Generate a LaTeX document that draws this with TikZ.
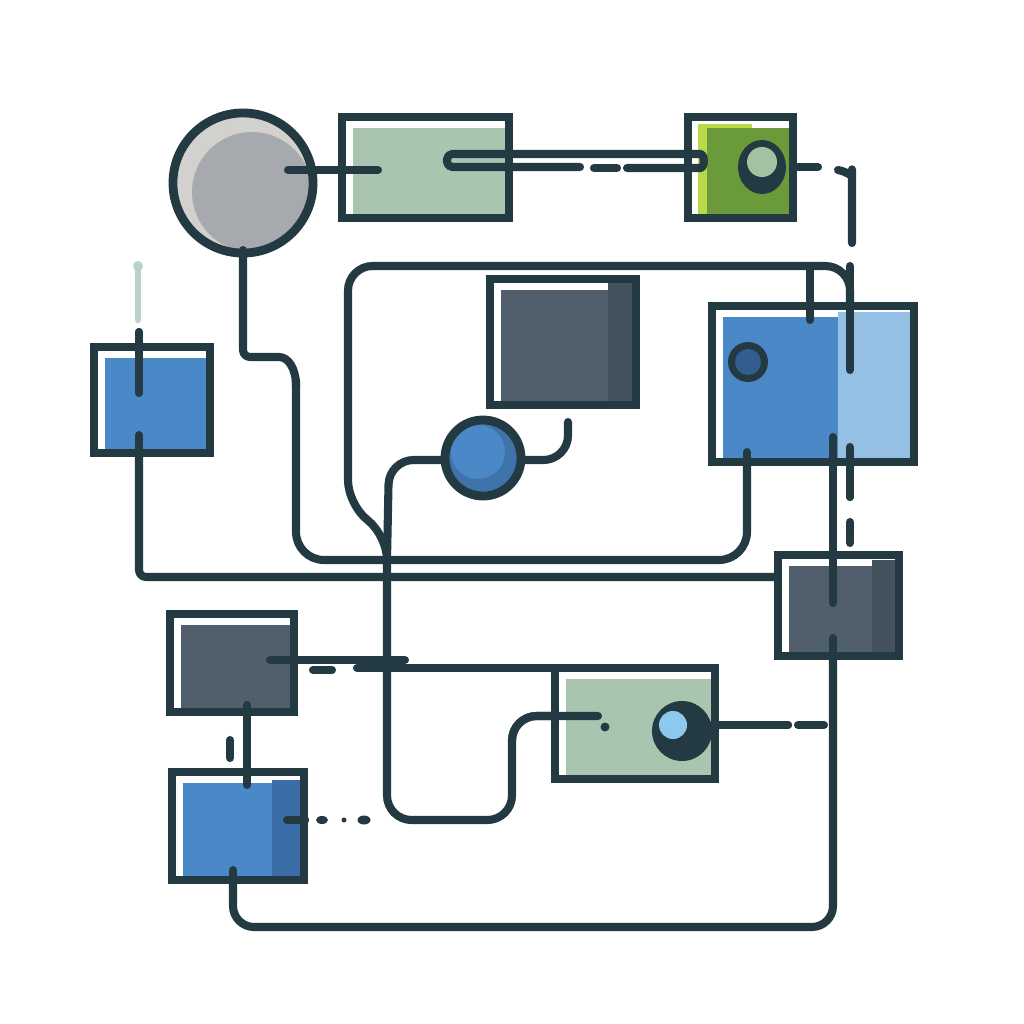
\documentclass[tikz,border=0pt]{standalone}
\usetikzlibrary{fit}
\definecolor{lc}{HTML}{243A43}
\definecolor{sage}{HTML}{A9C5AF}
\definecolor{olive}{HTML}{6A9A3A}
\definecolor{lime}{HTML}{B9D94A}
\definecolor{bblue}{HTML}{4A88C8}
\definecolor{lblue}{HTML}{93C0E4}
\definecolor{dblue}{HTML}{3B6EA8}
\definecolor{slate}{HTML}{505F6B}
\definecolor{dslate}{HTML}{44525D}
\definecolor{grayA}{HTML}{A6A9AE}
\definecolor{grayB}{HTML}{D3D1CE}
\definecolor{sky}{HTML}{8DC9EF}
\definecolor{fadeline}{HTML}{B9D3C8}
\tikzset{
  wire/.style={draw=lc, line width=2.3pt, line cap=round, line join=round, rounded corners=7pt},
  frame/.style={draw=lc, line width=2.5pt},
}
\newcommand{\mypanel}[6]{%
  \fill[white] (#2,#3) rectangle (#4,#5);
  \fill[#6] (#2+11,#3+11) rectangle (#4-4,#5-4);
  \coordinate (#1-a) at (#2,#3);
  \coordinate (#1-b) at (#4,#5);
}
\newcommand{\myframe}[1]{\node[fit=(#1-a)(#1-b), inner sep=0pt, frame] (#1) {};}
\begin{document}
\begin{tikzpicture}[x=0.01cm,y=-0.01cm]
\useasboundingbox (0,0) rectangle (1024,1024);
\fill[white] (0,0) rectangle (1024,1024);

% ---------- wires (behind) ----------
\draw[wire] (850,370)--(850,266)--(348,266)--(348,505)--(387,535)--(387,820)--(512,820)--(512,716)--(598,716);
\draw[wire] (810,267)--(810,320);
\draw[wire] (445,460)--(389,460)--(387,560);
\draw[wire] (521,460)--(568,460)--(568,422);
\draw[wire, rounded corners=2pt] (243,255)--(243,357)--(272,357) .. controls (288,357) and (296,368) .. (296,386);
\draw[wire, rounded corners=8pt] (296,380)--(296,560)--(747,560)--(747,452);
\draw[draw=fadeline, line width=1.8pt, line cap=round] (138,270)--(138,320);
\fill[fadeline] (138,266) circle (5);
\draw[wire] (139,332)--(139,393);
\draw[wire, rounded corners=2pt] (139,435)--(139,577)--(776,577);
\draw[wire] (833,437)--(833,603);
\draw[wire, rounded corners=6pt] (833,638)--(833,927)--(233,927)--(233,882);
\draw[wire] (850,447)--(850,497);
\draw[wire] (850,522)--(850,543);
\draw[wire] (798,167)--(818,167);
\draw[wire] (838,170) .. controls (850,172) and (852,180) .. (852,194) -- (852,243);
\draw[wire] (313,670)--(332,670);
\draw[wire] (357,668)--(555,668);
\draw[wire] (247,714)--(247,785);
\draw[wire] (230,740)--(230,758);
\draw[wire] (287,820)--(305,820);
\fill[lc] (322,820) ellipse (6 and 4);
\fill[lc] (344,820) circle (2.5);
\fill[lc] (364,820) ellipse (6.5 and 4.5);
\draw[wire] (712,725)--(788,725);
\draw[wire] (798,725)--(824,725);

% ---------- panels ----------
\mypanel{sageT}{342}{117}{509}{218}{sage}
\myframe{sageT}
\mypanel{green}{688}{117}{793}{218}{olive}
\fill[lime] (698,128) rectangle (707,214);
\fill[lime] (698,124) rectangle (752,128);
\myframe{green}
\mypanel{darkC}{490}{279}{636}{405}{slate}
\fill[dslate] (608,283) rectangle (632,401);
\myframe{darkC}
\mypanel{bigB}{712}{306}{914}{462}{bblue}
\fill[lblue] (838,312) rectangle (910,458);
\myframe{bigB}
\mypanel{leftB}{94}{347}{210}{453}{bblue}
\myframe{leftB}
\mypanel{darkR}{778}{555}{899}{656}{slate}
\fill[dslate] (872,560) rectangle (895,652);
\myframe{darkR}
\mypanel{darkL}{170}{614}{294}{712}{slate}
\myframe{darkL}
\mypanel{botB}{172}{772}{304}{880}{bblue}
\fill[dblue] (272,780) rectangle (300,876);
\myframe{botB}
\mypanel{sageB}{555}{668}{715}{779}{sage}
\myframe{sageB}

% ---------- circles ----------
\fill[grayB] (243,183) circle (70);
\fill[grayA] (252,192) circle (60);
\node[circle, draw=lc, line width=2.5pt, minimum size=1.4cm, inner sep=0pt] (gc) at (243,183) {};
\fill[bblue!85!black] (483,458) circle (38);
\fill[bblue] (478,452) circle (27);
\node[circle, draw=lc, line width=2.5pt, minimum size=0.76cm, inner sep=0pt] (bc) at (483,458) {};
\fill[lc] (762,167) ellipse (24 and 27);
\node[circle, fill=sage!90!olive, minimum size=0.3cm, inner sep=0pt] (gring) at (762,162) {};
\fill[lc] (748,362) circle (20);
\node[circle, fill=dblue!85!black, minimum size=0.26cm, inner sep=0pt] (bring) at (748,362) {};
\fill[lc] (682,731) circle (30);
\node[circle, fill=sky, minimum size=0.28cm, inner sep=0pt] (sring) at (673,725) {};

% ---------- wires over panels ----------
\draw[wire] (288,170)--(378,170);
\draw[wire, rounded corners=1.5pt] (580,167)--(447,167)--(447,154)--(695,154) .. controls (705,154) and (705,168) .. (695,168) -- (627,168);
\draw[wire] (594,168)--(617,168);
\draw[wire] (810,267)--(810,320);
\draw[wire] (850,266)--(850,370);
\draw[wire] (747,452)--(747,470);
\draw[wire] (833,437)--(833,603);
\draw[wire] (833,638)--(833,660);
\draw[wire] (850,447)--(850,497);
\draw[wire] (139,332)--(139,393);
\draw[wire] (139,435)--(139,460);
\draw[wire] (270,660)--(405,660);
\draw[wire] (247,705)--(247,785);
\draw[wire] (233,870)--(233,890);
\draw[wire] (287,820)--(305,820);
\draw[wire, rounded corners=7pt] (512,740)--(512,716)--(598,716);
\fill[lc] (605,727) circle (4.5);
\draw[wire] (712,725)--(788,725);
\draw[wire] (243,250)--(243,262);
\end{tikzpicture}
\end{document}
